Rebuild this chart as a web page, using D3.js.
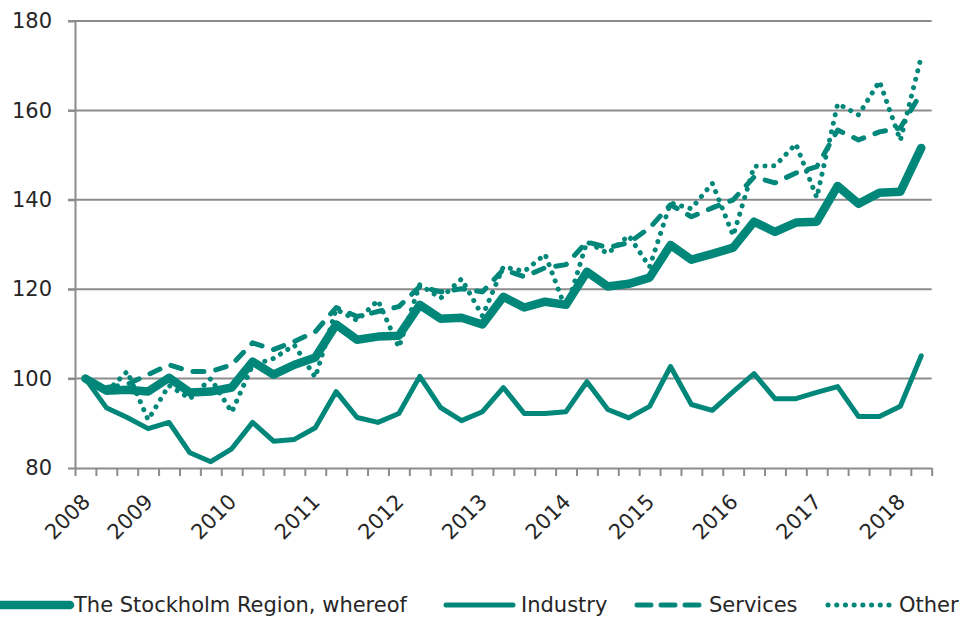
<!DOCTYPE html>
<html>
<head>
<meta charset="utf-8">
<script src="https://cdn.jsdelivr.net/npm/d3@7"></script>
<style>
  body { margin: 0; background: #fff; }
  svg text { font-family: "DejaVu Sans", sans-serif; fill: #262626; }
</style>
</head>
<body>
<div id="chart"></div>
<script>
// quarters 2008 Q2 .. 2018 Q2
const quarters = [
  "2008Q2","2008Q3","2008Q4",
  "2009Q1","2009Q2","2009Q3","2009Q4",
  "2010Q1","2010Q2","2010Q3","2010Q4",
  "2011Q1","2011Q2","2011Q3","2011Q4",
  "2012Q1","2012Q2","2012Q3","2012Q4",
  "2013Q1","2013Q2","2013Q3","2013Q4",
  "2014Q1","2014Q2","2014Q3","2014Q4",
  "2015Q1","2015Q2","2015Q3","2015Q4",
  "2016Q1","2016Q2","2016Q3","2016Q4",
  "2017Q1","2017Q2","2017Q3","2017Q4",
  "2018Q1","2018Q2"
];

const stockholm = [100, 97.3, 97.5, 97.1, 100.2, 96.9, 97.1, 98, 103.8, 100.9, 103.1, 104.7,
  112.1, 108.7, 109.4, 109.6, 116.5, 113.4, 113.6, 112.1, 118.3, 115.9, 117.2, 116.5,
  123.9, 120.6, 121.2, 122.6, 129.9, 126.6, 127.9, 129.3, 135.1, 132.8, 134.9, 135.1,
  143.1, 139.1, 141.6, 141.8, 151.6];

const industry = [100, 93.5, 91.3, 88.8, 90.2, 83.4, 81.4, 84.3, 90.2, 86, 86.4, 89,
  97.1, 91.3, 90.2, 92.2, 100.5, 93.5, 90.6, 92.6, 98, 92.2, 92.2, 92.6,
  99.3, 93.1, 91.2, 93.8, 102.7, 94.2, 92.9, 97.1, 101.1, 95.5, 95.5, 96.9,
  98.2, 91.5, 91.5, 93.8, 105.1];

const services = [100, 98, 98.7, 100.9, 103.1, 101.6, 101.6, 103.1, 108, 106.5, 108.3, 110.5,
  115.9, 113.9, 115, 116.1, 120.6, 119.4, 120.1, 119.4, 124.4, 122.8, 124.8, 125.5,
  130.6, 129.3, 130.4, 133.7, 138.9, 136.2, 138.2, 140, 145.1, 143.8, 146, 147.4,
  155.6, 153.4, 155.2, 156.1, 163.9];

const other = [100, 97, 101.6, 90.8, 98.5, 95.5, 100, 92.5, 103, 104.5, 107.5, 100.3,
  115.5, 113, 117.5, 107, 121, 118, 122.3, 114, 125, 124, 127.8, 115.4,
  130.6, 128, 132, 125, 139.3, 138, 143.7, 132, 147.5, 147.6, 152.5, 140.5,
  161.5, 159, 166.5, 153.3, 172];

const yTicks = [80, 100, 120, 140, 160, 180];

const seriesNames = ["The Stockholm Region, whereof", "Industry", "Services", "Other"];
const seriesValues = [stockholm, industry, services, other];

const teal = "#00877a";
const grid = "#8c8c8c";

const width = 965, height = 618;
const styles = [
  { width: 8.5, dash: null },
  { width: 5, dash: null },
  { width: 5, dash: "11 12" },
  { width: 5, dash: "0.1 8.6" }
];

const svg = d3.select("#chart").append("svg")
  .attr("width", width)
  .attr("height", height);

const x = d3.scaleBand()
  .domain(d3.range(quarters.length))
  .range([75, 931.7])
  .padding(0);
const xEdge = d3.scaleLinear().domain([0, quarters.length]).range([75, 931.7]);
const y = d3.scaleLinear().domain([80, 180]).range([468, 21]);
const cx = i => x(i) + x.bandwidth() / 2;

// gridlines
svg.append("g")
  .selectAll("line")
  .data(yTicks.slice(1))
  .join("line")
  .attr("x1", 68).attr("x2", 931.7)
  .attr("y1", d => y(d)).attr("y2", d => y(d))
  .attr("stroke", grid).attr("stroke-width", 2);

// y axis
const yAxis = svg.append("g")
  .attr("transform", "translate(75,0)")
  .call(d3.axisLeft(y).tickValues(yTicks).tickSize(7).tickPadding(16).tickSizeOuter(0));
yAxis.select(".domain").attr("stroke", grid).attr("stroke-width", 2);
yAxis.selectAll(".tick line").attr("stroke", grid).attr("stroke-width", 2);
yAxis.selectAll(".tick text").attr("font-size", 21).attr("fill", "#262626")
  .style("font-family", "DejaVu Sans, sans-serif");

// x axis (ticks between categories)
const xAxis = svg.append("g")
  .attr("transform", "translate(0,468)")
  .call(d3.axisBottom(xEdge).tickValues(d3.range(quarters.length + 1)).tickSize(8).tickFormat("").tickSizeOuter(0));
xAxis.select(".domain").attr("stroke", grid).attr("stroke-width", 2);
xAxis.selectAll(".tick line").attr("stroke", grid).attr("stroke-width", 2);

// year labels
svg.append("g")
  .selectAll("text")
  .data(quarters.map((q, i) => ({ q, i })).filter(d => d.i === 0 || d.q.endsWith("Q1")))
  .join("text")
  .attr("transform", d => `translate(${cx(d.i) + 6},503) rotate(-45)`)
  .attr("text-anchor", "end")
  .attr("font-size", 21)
  .text(d => d.q.slice(0, 4));

// lines
const line = d3.line().x((d, i) => cx(i)).y(d => y(d));
svg.append("g")
  .selectAll("path")
  .data(seriesValues)
  .join("path")
  .attr("d", d => line(d))
  .attr("fill", "none")
  .attr("stroke", teal)
  .attr("stroke-width", (d, i) => styles[i].width)
  .attr("stroke-dasharray", (d, i) => styles[i].dash)
  .attr("stroke-linecap", "round")
  .attr("stroke-linejoin", "round");

// legend
const legendItems = [
  { x1: -10, x2: 70, tx: 74 },
  { x1: 446, x2: 513, tx: 521 },
  { x1: 637, x2: 701, tx: 709 },
  { x1: 828, x2: 893, tx: 899 }
];
const legend = svg.append("g")
  .selectAll("g")
  .data(seriesNames)
  .join("g");
legend.append("line")
  .attr("x1", (d, i) => legendItems[i].x1)
  .attr("x2", (d, i) => legendItems[i].x2)
  .attr("y1", 605).attr("y2", 605)
  .attr("stroke", teal)
  .attr("stroke-width", (d, i) => styles[i].width)
  .attr("stroke-dasharray", (d, i) => i === 2 ? "14 10" : styles[i].dash)
  .attr("stroke-linecap", "round");
legend.append("text")
  .attr("x", (d, i) => legendItems[i].tx)
  .attr("y", 612)
  .attr("font-size", 21)
  .text(d => d);
</script>
</body>
</html>
